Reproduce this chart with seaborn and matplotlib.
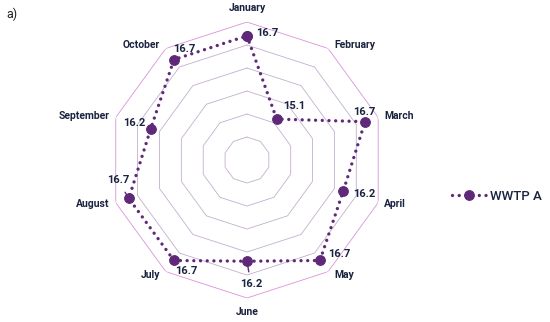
import numpy as np
import pandas as pd
import matplotlib
matplotlib.use('Agg')
import matplotlib.pyplot as plt
import seaborn as sns

months = ['January', 'February', 'March', 'April', 'May',
          'June', 'July', 'August', 'September', 'October']
wwtp_a = [16.7, 15.1, 16.7, 16.2, 16.7, 16.2, 16.7, 16.7, 16.2, 16.7]
ring_levels = [14.5, 15.0, 15.5, 16.0, 16.5, 17.0]
r_min, r_max = 14.0, 17.0

# label offsets in pixels (dx, dy up) relative to each point
lab_off = [(9, 3), (18, 13), (-1, 10), (21, -3), (19, 6),
           (4, -23), (12, -11), (-11, 18), (-16, 6), (10, 11)]
lab_ha = ['left', 'center', 'center', 'center', 'center',
          'center', 'center', 'center', 'center', 'center']
leader = [False, False, False, False, False, True, False, True, False, False]

sns.set_style('white')
plt.rcParams['font.family'] = ['Roboto', 'DejaVu Sans']

txt_col = '#1b2340'
line_col = '#5f2878'

n = len(months)
theta = np.linspace(0, 2 * np.pi, n, endpoint=False)
df = pd.DataFrame({'theta': np.append(theta, 2 * np.pi),
                   'value': wwtp_a + [wwtp_a[0]]})

fig = plt.figure(figsize=(5.5, 3.22), dpi=100)
ax = fig.add_axes([0.198, 0.0745, 0.502, 0.857], projection='polar')
ax.set_theta_offset(np.pi / 2)
ax.set_theta_direction(-1)
ax.set_ylim(r_min, r_max)
ax.grid(False)
ax.spines['polar'].set_visible(False)
ax.set_xticks([])
ax.set_yticks([])

# polygon grid
th_closed = np.append(theta, 0)
for lv in ring_levels:
    col = '#d993d9' if lv == r_max else '#c3afcd'
    ax.plot(th_closed, [lv] * (n + 1), color=col, lw=0.6, zorder=1)

sns.lineplot(data=df, x='theta', y='value', ax=ax, sort=False,
             color=line_col, lw=2.4, linestyle=(0, (0.01, 2.0)),
             dash_capstyle='round', marker='o', markersize=7,
             markerfacecolor=line_col, markeredgecolor=line_col,
             label='WWTP A', zorder=3, legend=False)
ax.set_xlabel('')
ax.set_ylabel('')

# month labels
for i, m in enumerate(months):
    s, c = np.sin(theta[i]), np.cos(theta[i])
    if abs(s) < 0.1:
        ha = 'center'
        va = 'bottom' if c > 0 else 'top'
        dx, dy = 0, 9 if c > 0 else -9
    else:
        ha = 'left' if s > 0 else 'right'
        va = 'center'
        dx, dy = (6 if s > 0 else -6), 4 * c
    ax.annotate(m, xy=(theta[i], r_max), xytext=(dx, dy),
                textcoords='offset pixels', ha=ha, va=va,
                fontsize=7.5, fontweight='bold', color=txt_col)

# value labels
for i, v in enumerate(wwtp_a):
    dx, dy = lab_off[i]
    props = dict(arrowstyle='-', color=line_col, lw=1.0,
                 shrinkA=3, shrinkB=2) if leader[i] else None
    ax.annotate(f'{v:.1f}', xy=(theta[i], v), xytext=(dx, dy),
                textcoords='offset pixels', ha=lab_ha[i], va='center',
                fontsize=8, fontweight='bold', color=txt_col,
                arrowprops=props, zorder=4)

fig.text(0.012, 0.955, 'a)', fontsize=9, color='#222222', va='center')

fig.legend(loc='center left', bbox_to_anchor=(0.822, 1 - 196 / 322),
           frameon=False, handlelength=2.6, handletextpad=0.3,
           borderaxespad=0, borderpad=0,
           prop={'size': 9.5, 'weight': 'medium'}, labelcolor=txt_col)

fig.savefig('out.png', dpi=100)
